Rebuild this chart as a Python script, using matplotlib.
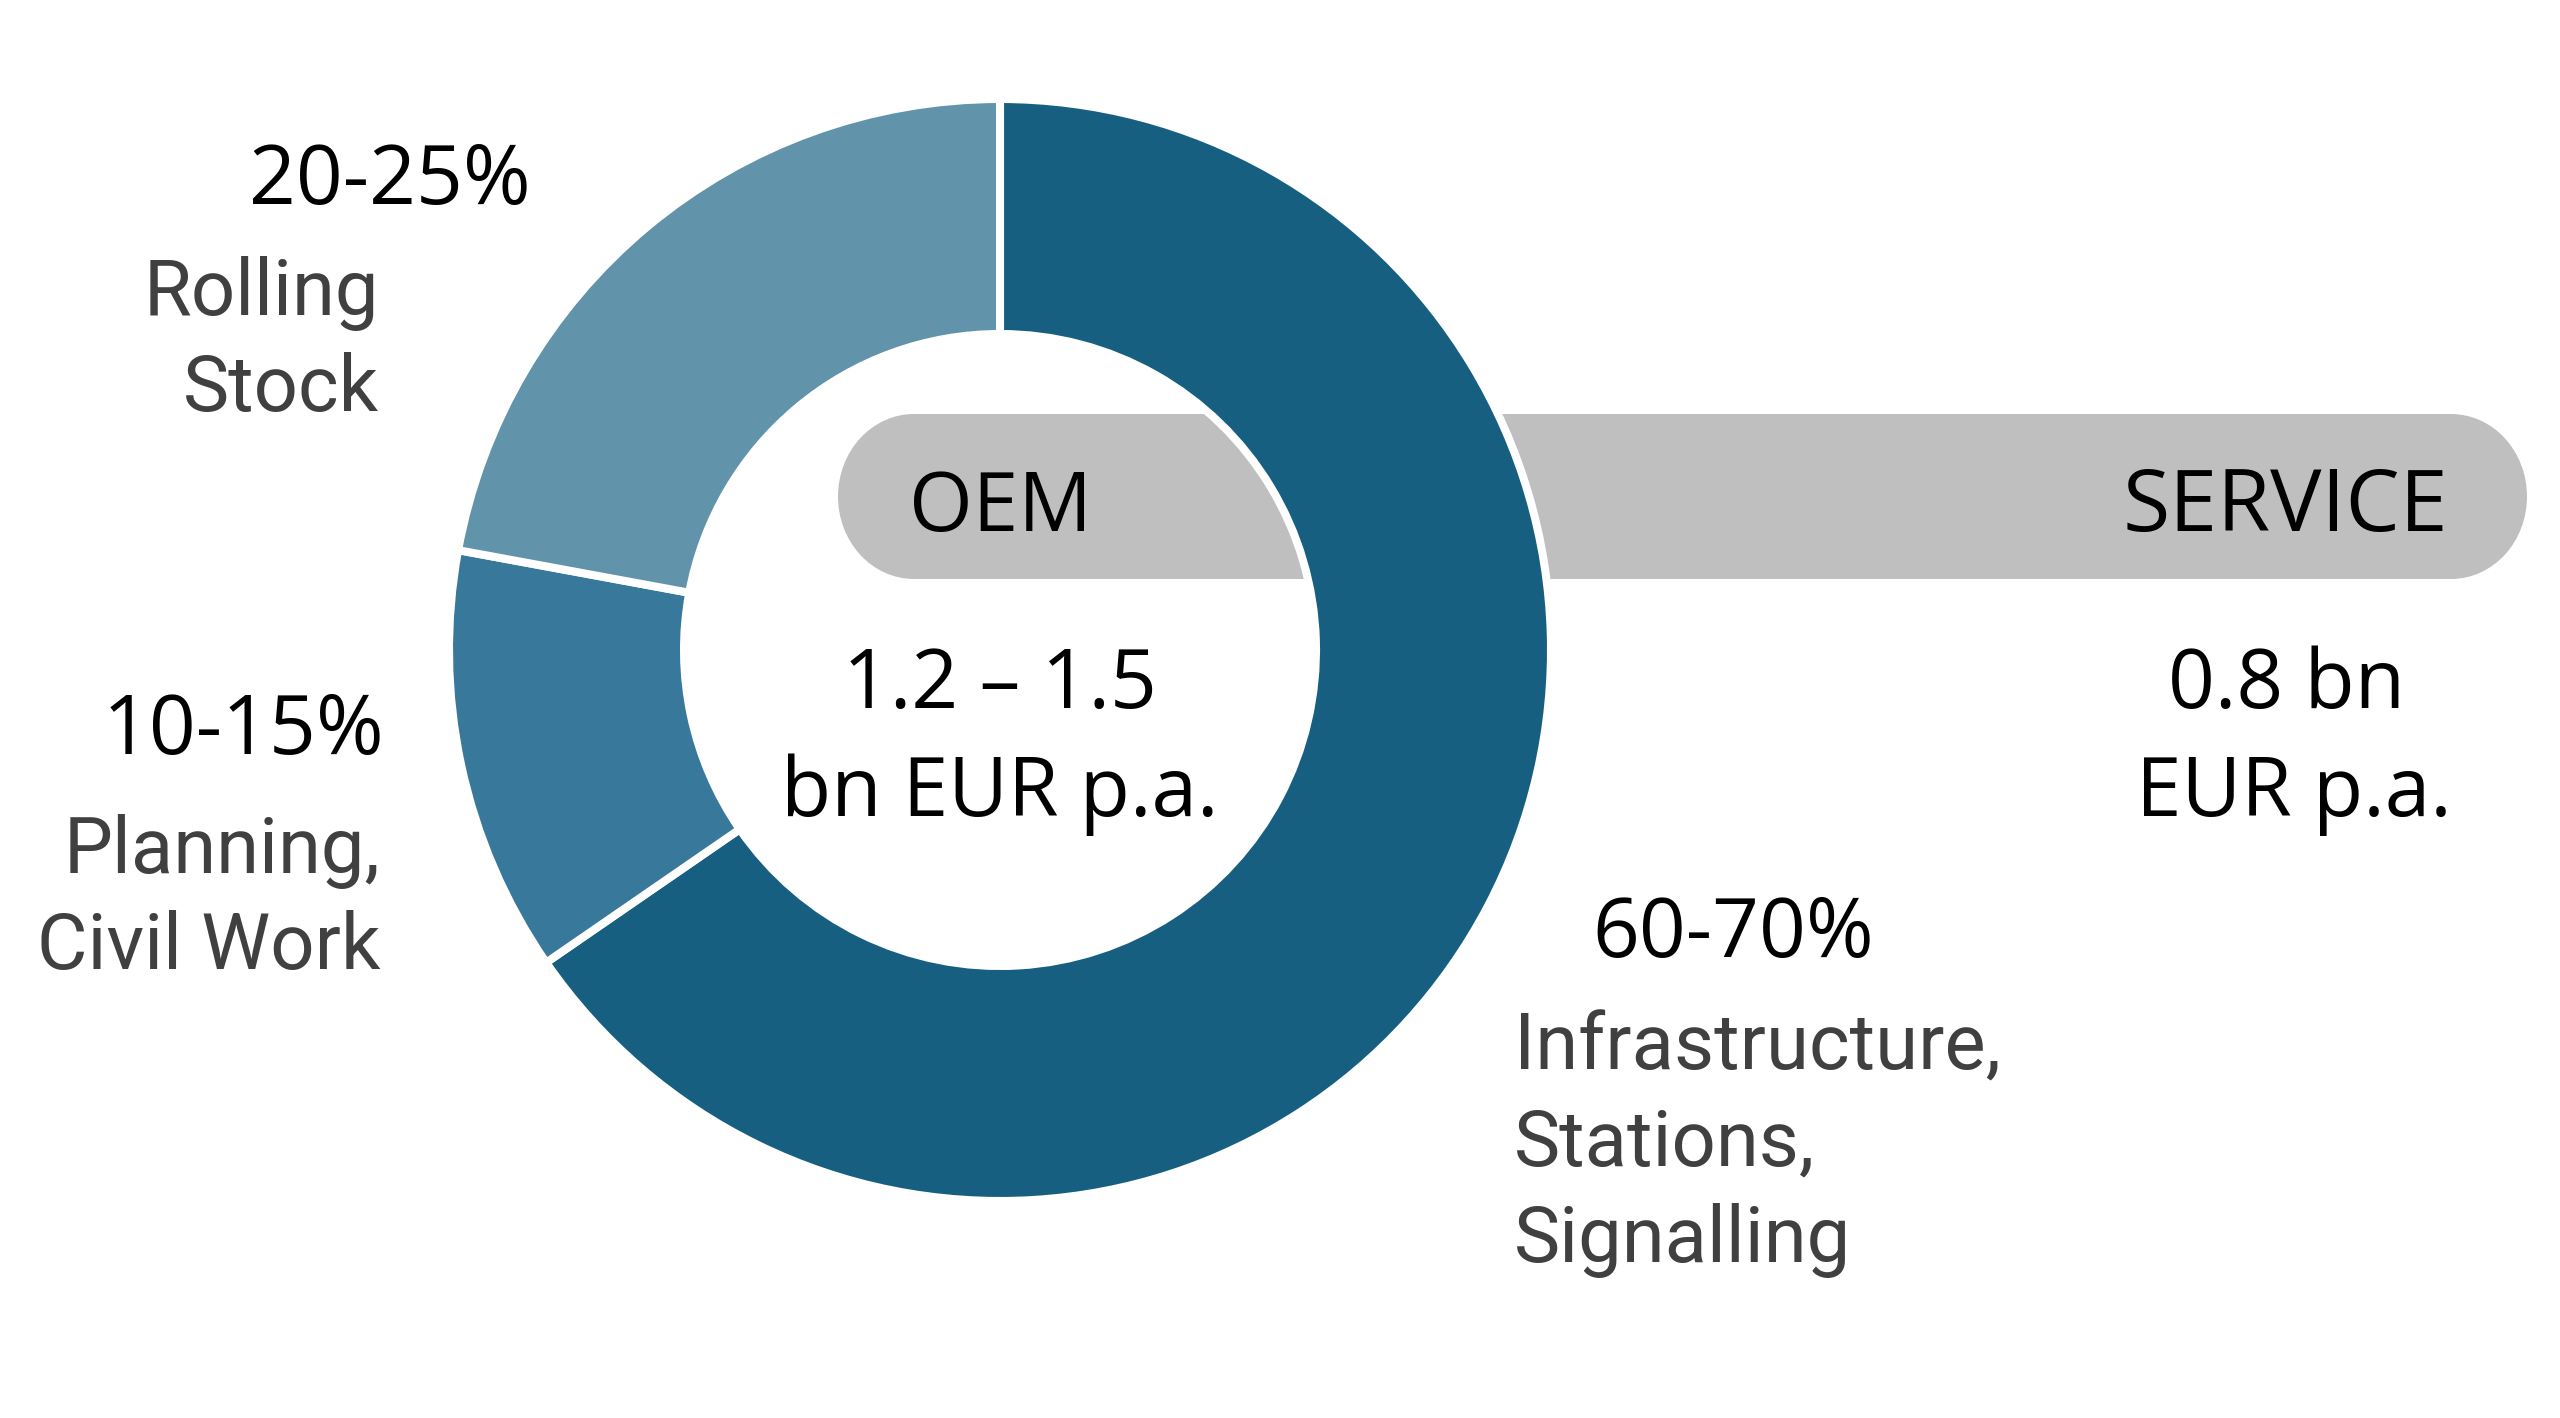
import matplotlib
matplotlib.use("Agg")
import matplotlib.pyplot as plt
from matplotlib.patches import Rectangle, Ellipse

# data
segments = ["Infrastructure,\nStations,\nSignalling", "Planning,\nCivil Work", "Rolling\nStock"]
ranges = ["60-70%", "10-15%", "20-25%"]
shares = [65.4, 12.5, 22.1]  # angular share of each ring slice
seg_colors = ["#175F80", "#38789A", "#6193AA"]

oem_value = "1.2 \u2013 1.5\nbn EUR p.a."
service_value = "0.8 bn\nEUR p.a."
bar_labels = ["OEM", "SERVICE"]

plt.rcParams["font.family"] = ["Roboto", "DejaVu Sans"]
num_font = ["Open Sans", "DejaVu Sans"]  # black figures
name_font = ["Roboto", "DejaVu Sans"]    # grey segment names

W, H = 2560, 1418
fig = plt.figure(figsize=(W / 100, H / 100), dpi=100)
ax = fig.add_axes([0, 0, 1, 1])

def y(v):
    # image pixel row -> data y (y axis points up)
    return H - v

# grey pill behind the ring
x0, x1, top, bot = 838, 2527, 414, 579
rx = 76
pill_kw = dict(facecolor="#BFBFBF", edgecolor="none", zorder=0.5)
ax.add_patch(Rectangle((x0 + rx, y(bot)), x1 - x0 - 2 * rx, bot - top, **pill_kw))
ax.add_patch(Ellipse((x0 + rx, y((top + bot) / 2)), 2 * rx, bot - top, **pill_kw))
ax.add_patch(Ellipse((x1 - rx, y((top + bot) / 2)), 2 * rx, bot - top, **pill_kw))

# donut
cx, cy = 1000, 650
ax.pie(shares, colors=seg_colors, startangle=90, counterclock=False,
       radius=551, center=(cx, y(cy)),
       wedgeprops=dict(width=235, edgecolor="white", linewidth=5.8))

ax.set_xlim(0, W)
ax.set_ylim(0, H)
ax.set_aspect("equal")
ax.axis("off")

fs = 59
fs_name = 56
dark = "#404040"

# bar labels
ax.text(cx, y(531), bar_labels[0], fontsize=fs, family=num_font, ha="center", va="baseline", color="black")
ax.text(2448, y(531), bar_labels[1], fontsize=62, family=num_font, ha="right", va="baseline", color="black")

# values in the middle and on the right
lines = oem_value.split("\n")
ax.text(cx, y(708), lines[0], fontsize=fs, family=num_font, ha="center", va="baseline", color="black")
ax.text(cx, y(816), lines[1], fontsize=fs, family=num_font, ha="center", va="baseline", color="black")
lines = service_value.split("\n")
ax.text(2286, y(708), lines[0], fontsize=fs, family=num_font, ha="center", va="baseline", color="black")
ax.text(2294, y(816), lines[1], fontsize=fs, family=num_font, ha="center", va="baseline", color="black")

# slice labels: (x of percentage, its baseline, alignment, x of name, first name baseline)
spots = [(1592, 957, "left", 1514, 1070), (384, 754, "right", 380, 873), (531, 204, "right", 379, 315)]
for (rng, seg, (px, py, ha, nx, ny)) in zip(ranges, segments, spots):
    ax.text(px, y(py), rng, fontsize=fs, family=num_font, ha=ha, va="baseline", color="black")
    for i, line in enumerate(seg.split("\n")):
        ax.text(nx, y(ny + 96 * i), line, fontsize=fs_name, family=name_font,
                ha=ha, va="baseline", color=dark)

fig.savefig("out.png", dpi=100, facecolor="white")
